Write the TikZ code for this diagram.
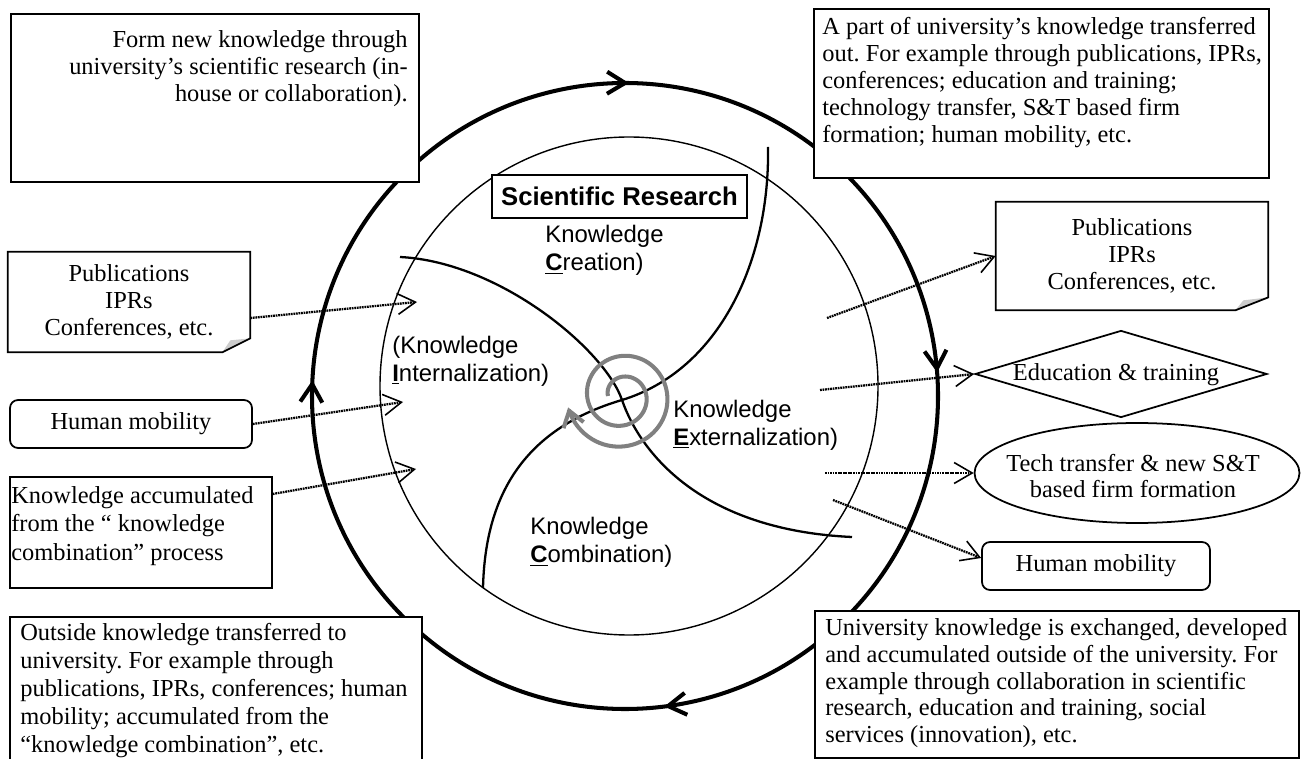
\documentclass[tikz,border=0pt]{standalone}
\usepackage{fontspec}
\setmainfont{Liberation Serif}
\setsansfont{Liberation Sans}
\usetikzlibrary{arrows.meta,shapes.geometric,decorations.markings}

\definecolor{spiralgray}{RGB}{128,128,128}

\tikzset{
	boxline/.style={draw, fill=white, line width=1pt},
	sertext/.style={font=\frenchspacing\fontsize{13.9}{15.3}\selectfont, inner sep=0pt},
	santext/.style={font=\sffamily\fontsize{13.6}{16.1}\selectfont, inner sep=0pt, align=left},
	flowarrow/.style={line width=1.3pt, dash pattern=on 1pt off 0.45pt,
		-{Straight Barb[length=0.36cm,width=0.42cm,line width=0.9pt]}},
	armline/.style={line width=1.3pt},
	cyclehead/.tip={Straight Barb[length=0.36cm,width=0.44cm]},
}

\begin{document}
\begin{tikzpicture}[x=0.02cm,y=-0.02cm]

	\useasboundingbox (0,0) rectangle (1307,759);

	\coordinate (O) at (625,396);
	\coordinate (I) at (629,386);

	\coordinate (armIn) at (400,257);
	\coordinate (armEx) at (852,537);
	\coordinate (armCr) at (768,147);
	\coordinate (armCo) at (483,588);
	\coordinate (mid) at (622,400);

	\coordinate (inPub) at (417,302);
	\coordinate (inHum) at (403,402);
	\coordinate (inAcc) at (416,469);

	\coordinate (outPub) at (827,318);
	\coordinate (outEdu) at (820,390);
	\coordinate (outTech) at (825,473);
	\coordinate (outHum) at (833,500);

	% circles
	\draw[line width=2.3pt, postaction={decorate}, decoration={markings,
		mark=at position 0.113 with {\arrow{cyclehead}},
		mark=at position 0.355 with {\arrow{cyclehead}},
		mark=at position 0.633 with {\arrow{cyclehead}},
		mark=at position 0.877 with {\arrow{cyclehead}}}]
		([shift={(-45:313)}]O) arc[start angle=-45, end angle=315, radius=313];
	\draw[line width=0.8pt] (I) circle[radius=249];

	\draw[armline] (armIn) .. controls (500,262) and (605,350) .. (mid)
		.. controls (640,452) and (700,530) .. (armEx);
	\draw[armline] (armCr) .. controls (770,260) and (720,370) .. (mid)
		.. controls (520,430) and (485,500) .. (armCo);

	\draw[spiralgray, line width=2.3pt, -{Straight Barb[length=0.3cm,width=0.42cm]}]
		plot[domain=180:888, samples=150, smooth]
		({622+(14+0.058*(\x-180))*cos(\x)}, {396+(14+0.058*(\x-180))*sin(\x)});

	\node[boxline, font=\sffamily\bfseries\fontsize{14.6}{17}\selectfont,
		minimum width=5.1cm, minimum height=0.86cm] (sciR) at (619.5,196.5) {Scientific Research};

	\node[santext, anchor=west] (creation) at (545,250) {Knowledge\\\underline{\textbf{C}}reation)};
	\node[santext, anchor=west] (internal) at (392,361) {(Knowledge\\\underline{\textbf{I}}nternalization)};
	\node[santext, anchor=west] (external) at (673,425) {Knowledge\\\underline{\textbf{E}}xternalization)};
	\node[santext, anchor=west] (combine) at (530,542) {Knowledge\\\underline{\textbf{C}}ombination)};

	% text boxes
	\node[boxline, minimum width=8.16cm, minimum height=3.36cm, anchor=north west] (newknow) at (10,13) {};
	\node[sertext, align=right, anchor=north east] (newknowtext) at (408,30)
		{Form new knowledge through\\university’s scientific research (in-\\house or collaboration).};

	\node[boxline, minimum width=9.1cm, minimum height=3.38cm, anchor=north west] (partout) at (813,8) {};
	\node[sertext, align=left, anchor=north west] (partouttext) at (822,17)
		{A part of university’s knowledge transferred\\out. For example through publications, IPRs,\\conferences; education and training;\\technology transfer, S\&T based firm\\formation; human mobility, etc.};

	\node[boxline, minimum width=8.24cm, minimum height=3.2cm, anchor=north west] (outside) at (9,616) {};
	\node[sertext, font=\frenchspacing\fontsize{13.9}{16}\selectfont, align=left, anchor=north west] (outsidetext) at (20,623)
		{Outside knowledge transferred to\\university. For example through\\publications, IPRs, conferences; human\\mobility; accumulated from the\\“knowledge combination”, etc.};

	\node[boxline, minimum width=9.68cm, minimum height=2.94cm, anchor=north west] (exchange) at (814,610) {};
	\node[sertext, align=left, anchor=north west] (exchangetext) at (825,618)
		{University knowledge is exchanged, developed\\and accumulated outside of the university. For\\example through collaboration in scientific\\research, education and training, social\\services (innovation), etc.};

	\node[boxline, minimum width=5.24cm, minimum height=2.22cm, anchor=north west] (accum) at (9,476) {};
	\node[sertext, font=\frenchspacing\fontsize{13.9}{16.2}\selectfont, align=left, anchor=north west] (accumtext) at (11,486)
		{Knowledge accumulated\\from the “ knowledge\\combination” process};

	% inputs
	\node[sertext, align=center, minimum width=4.84cm, minimum height=2cm] (pubL) at (129,302)
		{Publications\\IPRs\\Conferences, etc.};
	\fill[gray!40] ([xshift=-0.56cm]pubL.south east) -- ([yshift=0.28cm]pubL.south east)
		-- ([xshift=-0.4cm,yshift=0.24cm]pubL.south east) -- cycle;
	\draw[line width=1pt] ([yshift=0.28cm]pubL.south east) -- (pubL.north east) -- (pubL.north west)
		-- (pubL.south west) -- ([xshift=-0.56cm]pubL.south east) -- cycle;

	\node[boxline, sertext, rounded corners=0.16cm, minimum width=4.84cm, minimum height=0.96cm] (humL) at (131,424) {Human mobility};

	% outputs
	\node[sertext, align=center, minimum width=5.44cm, minimum height=2.16cm] (pubR) at (1132,256)
		{Publications\\IPRs\\Conferences, etc.};
	\fill[gray!40] ([xshift=-0.66cm]pubR.south east) -- ([yshift=0.26cm]pubR.south east)
		-- ([xshift=-0.5cm,yshift=0.2cm]pubR.south east) -- cycle;
	\draw[line width=1pt] ([yshift=0.26cm]pubR.south east) -- (pubR.north east) -- (pubR.north west)
		-- (pubR.south west) -- ([xshift=-0.66cm]pubR.south east) -- cycle;

	\node[boxline, diamond, minimum width=5.84cm, minimum height=1.74cm, inner sep=0pt] (edu) at (1121,374) {};
	\node[sertext] (edutext) at (1116,375) {Education \& training};
	\node[boxline, ellipse, minimum width=6.5cm, minimum height=2cm, inner sep=0pt] (tech) at (1137,473) {};
	\node[sertext, align=center] (techtext) at (1133,476) {Tech transfer \& new S\&T\\based firm formation};
	\node[boxline, sertext, rounded corners=0.16cm, minimum width=4.56cm, minimum height=0.96cm] (humR) at (1096,566) {Human mobility};

	\draw[flowarrow] ([yshift=-0.32cm]pubL.east) -- (inPub);
	\draw[flowarrow] (humL.east) -- (inHum);
	\draw[flowarrow] ([yshift=-0.36cm]accum.north east) -- (inAcc);

	\draw[flowarrow] (outPub) -- (pubR.west);
	\draw[flowarrow] (outEdu) -- (edu.west);
	\draw[flowarrow] (outTech) -- (tech.west);
	\draw[flowarrow] (outHum) -- ([yshift=0.16cm]humR.west);

\end{tikzpicture}
\end{document}
